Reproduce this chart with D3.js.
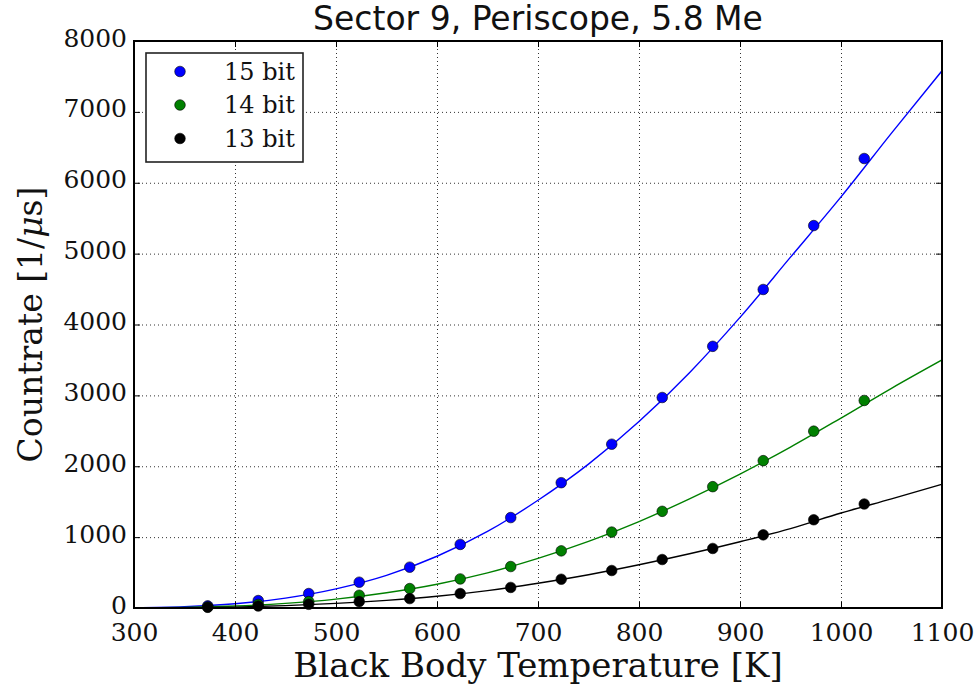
<!DOCTYPE html>
<html>
<head>
<meta charset="utf-8">
<script src="https://cdn.jsdelivr.net/npm/d3@7"></script>
<style>
  html, body { margin: 0; padding: 0; background: #fff; }
  svg { display: block; }
</style>
</head>
<body>
<svg id="chart" width="977" height="688"></svg>
<script>
// Measured temperatures of the black body source [K]
const temps = [373, 423, 473, 523, 573, 623, 673, 723, 773, 823, 873, 923, 973, 1023];

// Count rates [1/us] for each ADC resolution
const rate15 = [30, 105, 204, 364, 576, 897, 1276, 1768, 2311, 2970, 3692, 4494, 5396, 6342];
const rate14 = [15, 50, 90, 180, 274, 410, 585, 806, 1071, 1364, 1712, 2079, 2495, 2928];
const rate13 = [10, 28, 52, 90, 133, 204, 290, 406, 529, 684, 840, 1032, 1245, 1467];

// Fitted curves, sampled across the full temperature range
const fitTemps = [300, 350, 400, 450, 500, 550, 600, 650, 700, 750, 800, 850, 900, 950, 1000, 1050, 1100];
const fit15 = [5, 20, 60, 140, 270, 460, 730, 1080, 1520, 2030, 2630, 3320, 4100, 4950, 5800, 6700, 7580];
const fit14 = [2, 8, 28, 65, 125, 215, 335, 495, 700, 940, 1220, 1540, 1890, 2270, 2680, 3100, 3500];
const fit13 = [1, 4, 13, 33, 65, 108, 165, 245, 350, 470, 610, 765, 935, 1120, 1340, 1540, 1745];

const xTicks = [300, 400, 500, 600, 700, 800, 900, 1000, 1100];
const yTicks = [0, 1000, 2000, 3000, 4000, 5000, 6000, 7000, 8000];

const seriesNames = ["15 bit", "14 bit", "13 bit"];
const seriesColors = ["#0000ff", "#008000", "#000000"];

const series = [
  { name: seriesNames[0], color: seriesColors[0], pts: rate15, fit: fit15 },
  { name: seriesNames[1], color: seriesColors[1], pts: rate14, fit: fit14 },
  { name: seriesNames[2], color: seriesColors[2], pts: rate13, fit: fit13 }
];

const svg = d3.select("#chart");
const margin = { left: 134, top: 41, right: 35, bottom: 80 };
const W = 977, H = 688;
const pw = W - margin.left - margin.right;   // 808
const ph = H - margin.top - margin.bottom;   // 567

const x = d3.scaleLinear().domain([300, 1100]).range([0, pw]);
const y = d3.scaleLinear().domain([0, 8000]).range([ph, 0]);

const g = svg.append("g").attr("transform", `translate(${margin.left},${margin.top})`);

const serif = "'DejaVu Serif', serif";
const sans = "'DejaVu Sans', sans-serif";
const fmt = d3.format("d");

// Grid lines (dotted)
const grid = g.append("g").attr("stroke", "#000").attr("stroke-width", 1)
  .attr("stroke-dasharray", "1,3").attr("opacity", 0.8);
grid.selectAll(".gx").data(xTicks.slice(1, -1)).join("line")
  .attr("x1", d => x(d) + 0.5).attr("x2", d => x(d) + 0.5)
  .attr("y1", 0).attr("y2", ph);
grid.selectAll(".gy").data(yTicks.slice(1, -1)).join("line")
  .attr("y1", d => y(d) + 0.5).attr("y2", d => y(d) + 0.5)
  .attr("x1", 0).attr("x2", pw);

// Clip so the fit curves stay inside the axes
svg.append("defs").append("clipPath").attr("id", "plotclip")
  .append("rect").attr("width", pw).attr("height", ph);

const line = d3.line().x(d => x(d[0])).y(d => y(d[1])).curve(d3.curveMonotoneX);

series.forEach(s => {
  g.append("path")
    .datum(fitTemps.map((t, i) => [t, s.fit[i]]))
    .attr("clip-path", "url(#plotclip)")
    .attr("fill", "none")
    .attr("stroke", s.color)
    .attr("stroke-width", 1.4)
    .attr("d", line);
  g.append("g").selectAll("circle")
    .data(temps.map((t, i) => [t, s.pts[i]]))
    .join("circle")
    .attr("cx", d => x(d[0]))
    .attr("cy", d => y(d[1]))
    .attr("r", 5.3)
    .attr("fill", s.color)
    .attr("stroke", "#000")
    .attr("stroke-width", 0.6);
});

// Axes with inward ticks on all four sides
const xAxisB = d3.axisBottom(x).tickValues(xTicks).tickFormat(fmt).tickSizeInner(-6).tickSizeOuter(0).tickPadding(10);
const xAxisT = d3.axisTop(x).tickValues(xTicks).tickSizeInner(-6).tickSizeOuter(0).tickFormat("");
const yAxisL = d3.axisLeft(y).tickValues(yTicks).tickFormat(fmt).tickSizeInner(-6).tickSizeOuter(0).tickPadding(7);
const yAxisR = d3.axisRight(y).tickValues(yTicks).tickSizeInner(-6).tickSizeOuter(0).tickFormat("");

function styleAxis(sel) {
  sel.select(".domain").remove();
  sel.selectAll(".tick line").attr("stroke", "#000").attr("stroke-width", 1);
  sel.selectAll(".tick text").attr("fill", "#111").attr("font-family", serif).attr("font-size", 25);
}

g.append("g").attr("transform", `translate(0,${ph})`).call(xAxisB).call(styleAxis)
  .selectAll(".tick text").attr("dy", "0.9em");
g.append("g").call(xAxisT).call(styleAxis);
g.append("g").call(yAxisL).call(styleAxis)
  .selectAll(".tick text").attr("dy", "0.2em");
g.append("g").attr("transform", `translate(${pw},0)`).call(yAxisR).call(styleAxis);

// Frame
g.append("rect").attr("width", pw).attr("height", ph)
  .attr("fill", "none").attr("stroke", "#000").attr("stroke-width", 2);

// Title
svg.append("text")
  .attr("x", margin.left + pw / 2).attr("y", 30)
  .attr("text-anchor", "middle")
  .attr("font-family", sans).attr("font-size", 33).attr("fill", "#111")
  .text("Sector 9, Periscope, 5.8 Me");

// Axis labels
svg.append("text")
  .attr("x", margin.left + pw / 2).attr("y", 677)
  .attr("text-anchor", "middle")
  .attr("font-family", serif).attr("font-size", 34).attr("fill", "#111")
  .text("Black Body Temperature [K]");

const yl = svg.append("text")
  .attr("transform", `translate(42,${margin.top + ph / 2}) rotate(-90)`)
  .attr("text-anchor", "middle")
  .attr("font-family", serif).attr("font-size", 33).attr("fill", "#111");
yl.append("tspan").text("Countrate [1/");
yl.append("tspan").attr("font-style", "italic").text("μ");
yl.append("tspan").text("s]");

// Legend
const lg = svg.append("g").attr("transform", "translate(146,53)");
lg.append("rect").attr("width", 157).attr("height", 109)
  .attr("fill", "#fff").attr("stroke", "#222").attr("stroke-width", 1.6);
series.forEach((s, i) => {
  const row = lg.append("g").attr("transform", `translate(0,${18.5 + i * 33.5})`);
  row.append("circle").attr("cx", 34).attr("cy", 0).attr("r", 5.3)
    .attr("fill", s.color).attr("stroke", "#000").attr("stroke-width", 0.6);
  row.append("text").attr("x", 78).attr("y", 0).attr("dy", "0.35em")
    .attr("font-family", serif).attr("font-size", 24).attr("fill", "#111")
    .text(s.name);
});
</script>
</body>
</html>
